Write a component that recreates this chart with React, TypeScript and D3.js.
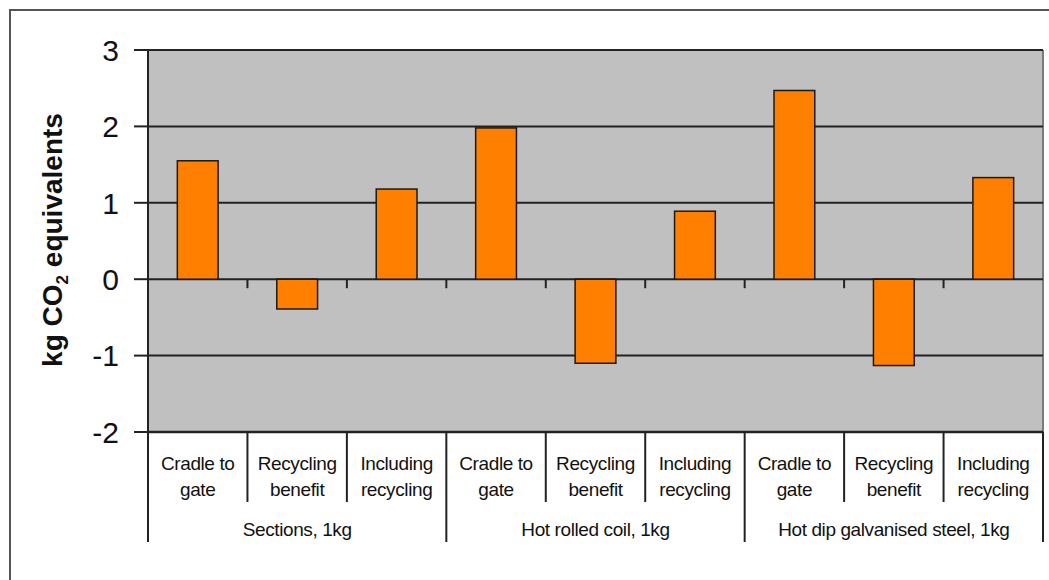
import { range, scaleBand, scaleLinear } from 'd3'

const groups = ['Sections, 1kg', 'Hot rolled coil, 1kg', 'Hot dip galvanised steel, 1kg']
const stages = [['Cradle to', 'gate'], ['Recycling', 'benefit'], ['Including', 'recycling']]
const sectionsValues = [1.55, -0.39, 1.18]
const coilValues = [1.98, -1.1, 0.89]
const galvanisedValues = [2.47, -1.13, 1.33]
const yTicks = [-2, -1, 0, 1, 2, 3]

const W = 1049
const H = 580
const left = 148
const right = 1043
const top = 50
const bottom = 432
const font = "'Liberation Sans', Arial, sans-serif"

export default function App() {
  const seriesValues = [sectionsValues, coilValues, galvanisedValues]
  const data = groups.flatMap((g, gi) =>
    stages.map((s, si) => ({ key: `${gi}-${si}`, group: g, stage: s, value: seriesValues[gi][si] }))
  )

  const x = scaleBand<string>().domain(data.map(d => d.key)).range([left, right]).padding(0)
  const y = scaleLinear().domain([-2, 3]).range([bottom, top])
  const bw = x.bandwidth()
  const barW = bw * 0.41
  const y0 = y(0)

  return (
    <svg width={W} height={H} style={{ position: 'absolute', left: 0, top: 0, background: '#fff' }}>
      {/* outer frame, cut off on right and bottom */}
      <rect x={10} y={10} width={W + 20} height={H + 20} fill='#fff' stroke='#555' strokeWidth={2} />

      {/* plot area */}
      <rect x={left} y={top} width={right - left} height={bottom - top} fill='#c0c0c0' />
      <line x1={left} x2={right} y1={top} y2={top} stroke='#6a6a6a' strokeWidth={2} />
      <line x1={right} x2={right} y1={top} y2={bottom} stroke='#7a7a7a' strokeWidth={2} />

      {/* gridlines + y ticks */}
      {yTicks.map(t => (
        <g key={t}>
          <line x1={left} x2={right} y1={y(t)} y2={y(t)} stroke='#222' strokeWidth={t === -2 ? 2.5 : 2} />
          <line x1={left - 14} x2={left} y1={y(t)} y2={y(t)} stroke='#222' strokeWidth={2} />
          <text x={119} y={y(t)} dy='0.36em' textAnchor='end' fontFamily={font} fontSize={30} fill='#111'>
            {t}
          </text>
        </g>
      ))}

      {/* bars */}
      {data.map(d => {
        const cx = (x(d.key) ?? 0) + bw / 2
        const yv = y(d.value)
        return (
          <rect
            key={d.key}
            x={cx - barW / 2}
            y={Math.min(yv, y0)}
            width={barW}
            height={Math.abs(yv - y0)}
            fill='#ff8000'
            stroke='#1a1a1a'
            strokeWidth={1.5}
          />
        )
      })}

      {/* zero axis ticks */}
      {range(1, data.length).map(i => (
        <line key={i} x1={left + i * bw} x2={left + i * bw} y1={y0} y2={y0 + 9} stroke='#222' strokeWidth={2} />
      ))}

      {/* y axis line */}
      <line x1={left} x2={left} y1={top} y2={bottom} stroke='#222' strokeWidth={2} />

      {/* category separators */}
      {range(0, data.length + 1).map(i => (
        <line
          key={i}
          x1={left + i * bw}
          x2={left + i * bw}
          y1={bottom}
          y2={i % 3 === 0 ? 542 : 502}
          stroke='#222'
          strokeWidth={2}
        />
      ))}

      {/* category labels */}
      {data.map(d => {
        const cx = (x(d.key) ?? 0) + bw / 2
        return (
          <text key={d.key} x={cx} textAnchor='middle' fontFamily={font} fontSize={19} fill='#111' letterSpacing={-0.4}>
            <tspan x={cx} y={470}>{d.stage[0]}</tspan>
            <tspan x={cx} y={496}>{d.stage[1]}</tspan>
          </text>
        )
      })}

      {/* group labels */}
      {groups.map((g, gi) => (
        <text
          key={g}
          x={left + (gi * 3 + 1.5) * bw}
          y={536}
          textAnchor='middle'
          fontFamily={font}
          fontSize={19}
          fill='#111'
          letterSpacing={-0.4}
        >
          {g}
        </text>
      ))}

      {/* y axis title */}
      <text
        transform={`translate(62, ${(top + bottom) / 2 - 1}) rotate(-90)`}
        textAnchor='middle'
        fontFamily={font}
        fontSize={28}
        fontWeight='bold'
        fill='#111'
      >
        kg CO<tspan fontSize={17} dy={6}>2</tspan>
        <tspan dy={-6}> equivalents</tspan>
      </text>
    </svg>
  )
}
